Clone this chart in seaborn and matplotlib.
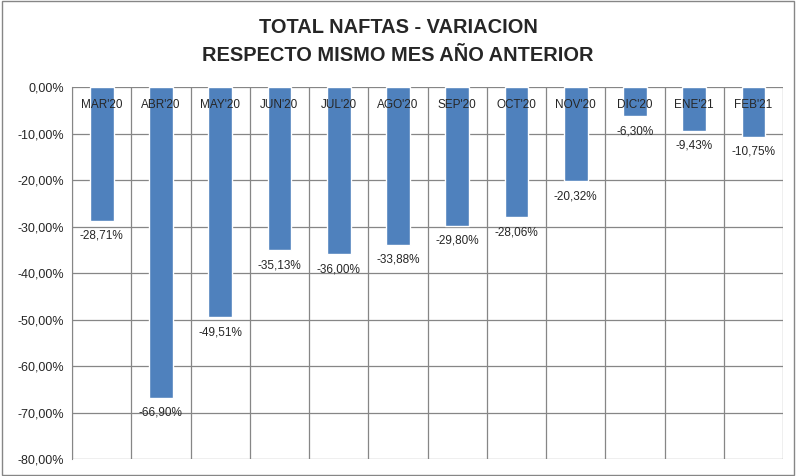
import numpy as np
import matplotlib.pyplot as plt
import seaborn as sns
import pandas as pd
from matplotlib.ticker import FuncFormatter

months = ["MAR'20", "ABR'20", "MAY'20", "JUN'20", "JUL'20", "AGO'20",
          "SEP'20", "OCT'20", "NOV'20", "DIC'20", "ENE'21", "FEB'21"]
variacion = [-28.71, -66.90, -49.51, -35.13, -36.00, -33.88,
             -29.80, -28.06, -20.32, -6.30, -9.43, -10.75]

df = pd.DataFrame({"mes": months, "var": variacion})

sns.set_style("white")
plt.rcParams['font.family'] = ['Liberation Sans', 'DejaVu Sans']

fig = plt.figure(figsize=(7.96, 4.76), dpi=100)
ax = fig.add_axes([0.0905, 0.0357, 0.8932, 0.7815])

sns.barplot(data=df, x="mes", y="var", color="#4F81BD", saturation=1,
            width=0.4, ax=ax, zorder=3)

ax.set_ylim(-80, 0)
ax.set_xlim(-0.5, len(months) - 0.5)
ax.set_yticks(np.arange(-80, 1, 10))
ax.yaxis.set_major_formatter(FuncFormatter(lambda v, p: f"{v:.2f}%".replace(".", ",")))
ax.tick_params(axis="y", labelsize=9, length=4, color="#868686", pad=2)
ax.grid(axis="y", color="#868686", linewidth=0.9, zorder=0)
for k in range(len(months) + 1):
    ax.axvline(k - 0.5, color="#868686", linewidth=0.9, zorder=0)

ax.set_xticks([])
ax.set_xlabel("")
ax.set_ylabel("")
for side in ["top", "right", "bottom"]:
    ax.spines[side].set_visible(False)
ax.spines["left"].set_color("#868686")

for i, (m, v) in enumerate(zip(months, variacion)):
    ax.text(i, -3.8, m, ha="center", va="center", fontsize=8.5, zorder=4)
    ax.text(i, v - 3.2, f"{v:.2f}%".replace(".", ","), ha="center", va="center",
            fontsize=8.5, zorder=4)

fig.text(0.5, 0.943, "TOTAL NAFTAS - VARIACION", ha="center", va="center",
         fontsize=14.4, fontweight="bold")
fig.text(0.5, 0.884, "RESPECTO MISMO MES AÑO ANTERIOR", ha="center", va="center",
         fontsize=14.4, fontweight="bold")

fig.patches.append(plt.Rectangle((0.002, 0.003), 0.996, 0.994, transform=fig.transFigure,
                                 fill=False, edgecolor="#868686", linewidth=1))

fig.savefig("out.png", dpi=100)
